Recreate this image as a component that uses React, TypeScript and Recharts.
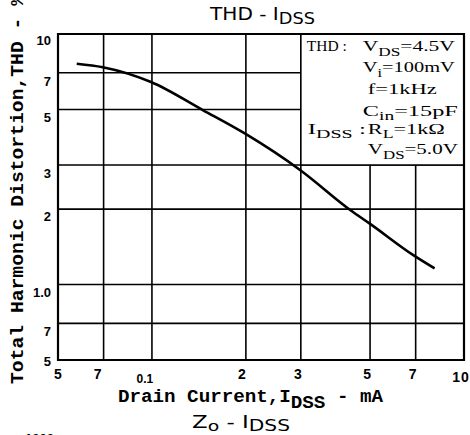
import React from 'react';
import { LineChart, Line, XAxis, YAxis, CartesianGrid, ReferenceArea } from 'recharts';

// Curve (log-log): drain current IDSS (mA) vs THD (%)
const drainCurrent = [0.574, 0.696, 0.993, 1.46, 1.99, 2.99, 4.33, 4.99, 6.88, 8.05];
const thdPercent = [7.61, 7.37, 6.43, 4.96, 4.0, 2.86, 1.98, 1.75, 1.31, 1.16];

const xTickValues = [0.5, 0.7, 1, 2, 3, 5, 7, 10];
const xTickLabels = ['5', '7', '0.1', '2', '3', '5', '7', '10'];
const yTickValues = [0.5, 0.7, 1, 2, 3, 5, 7, 10];
const yTickLabels = ['5', '7', '1.0', '2', '3', '5', '7', '10'];

const xDomain = [0.5, 10];
const yDomain = [0.5, 10];
const boxRangeX = [3, 10];
const boxRangeY = [3, 10];

const data = drainCurrent.map((c, i) => ({ current: c, thd: thdPercent[i] }));

const MONO = "'Liberation Mono', 'DejaVu Sans Mono', monospace";
const NARROW = "'Liberation Sans Narrow', 'DejaVu Sans Condensed', 'Liberation Sans', sans-serif";
const SERIF = "'Liberation Serif', 'DejaVu Serif', serif";
const TICKFONT = "'Liberation Sans', Arial, sans-serif";

const xTickDx = [0, -6, -7, -4, -3, -3, -3, -3];
const xTickDy = [19, 19, 23, 19, 19, 19, 19, 22];
const xTickSize = [14, 14, 12, 14, 14, 14, 14, 14];

function XTick(props: any) {
  const { x, y, payload } = props;
  const i = xTickValues.indexOf(payload.value);
  if (i < 0) return null;
  return (
    <text
      x={x + xTickDx[i]}
      y={y + xTickDy[i]}
      textAnchor="middle"
      fontFamily={TICKFONT}
      fontWeight="bold"
      fontSize={xTickSize[i]}
      fill="#000"
      letterSpacing={i === 7 ? 1 : 0}
    >
      {xTickLabels[i]}
    </text>
  );
}

const yTickDy = [6, 13, 12, 12, 13, 13, 13, 11];

function YTick(props: any) {
  const { x, y, payload } = props;
  const i = yTickValues.indexOf(payload.value);
  if (i < 0) return null;
  return (
    <text
      x={x - 7}
      y={y + yTickDy[i]}
      textAnchor="end"
      fontFamily={TICKFONT}
      fontWeight="bold"
      fontSize={13}
      fill="#000"
    >
      {yTickLabels[i]}
    </text>
  );
}

function BoxText(props: any) {
  const vb = props.viewBox || {};
  const x0 = vb.x ?? 301;
  const y0 = vb.y ?? 34;
  const common = { fontFamily: SERIF, fontSize: 15, fill: '#000', style: { whiteSpace: 'pre' as const } };
  const sub = { fontSize: 12 };
  return (
    <g>
      <text x={x0 + 6} y={y0 + 17} textLength={40} lengthAdjust="spacingAndGlyphs" {...common}>THD :</text>
      <text x={x0 + 62} y={y0 + 17} textLength={92} lengthAdjust="spacingAndGlyphs" {...common}>
        V<tspan dy={5} {...sub}>DS</tspan><tspan dy={-5}>=4.5V</tspan>
      </text>
      <text x={x0 + 62} y={y0 + 37.5} textLength={92} lengthAdjust="spacingAndGlyphs" {...common}>
        V<tspan dy={5} {...sub}>i</tspan><tspan dy={-5}>=100mV</tspan>
      </text>
      <text x={x0 + 67} y={y0 + 60} textLength={69} lengthAdjust="spacingAndGlyphs" {...common}>f=1kHz</text>
      <text x={x0 + 62} y={y0 + 82} textLength={95} lengthAdjust="spacingAndGlyphs" {...common}>
        C<tspan dy={4} {...sub}>in</tspan><tspan dy={-4}>=15pF</tspan>
      </text>
      <text x={x0 + 7} y={y0 + 100} textLength={58} lengthAdjust="spacingAndGlyphs" {...common}>
        I<tspan dy={4} {...sub}>DSS</tspan><tspan dy={-4}> :</tspan>
      </text>
      <text x={x0 + 67} y={y0 + 100} textLength={77} lengthAdjust="spacingAndGlyphs" {...common}>
        R<tspan dy={4} {...sub}>L</tspan><tspan dy={-4}>=1kΩ</tspan>
      </text>
      <text x={x0 + 67} y={y0 + 120} textLength={90} lengthAdjust="spacingAndGlyphs" {...common}>
        V<tspan dy={5} {...sub}>DS</tspan><tspan dy={-5}>=5.0V</tspan>
      </text>
    </g>
  );
}

export default function App() {
  return (
    <div style={{ position: 'absolute', left: 0, top: 0, width: 470, height: 435, background: '#fff', overflow: 'hidden' }}>
      <LineChart
        width={470}
        height={435}
        data={data}
        margin={{ top: 34, right: 6, left: 0, bottom: 0 }}
      >
        <CartesianGrid stroke="#000" strokeWidth={1.6} />
        <XAxis
          dataKey="current"
          type="number"
          scale="log"
          domain={xDomain}
          ticks={xTickValues}
          interval={0}
          allowDataOverflow
          height={75}
          tickSize={0}
          tickMargin={0}
          tickLine={false}
          axisLine={false}
          tick={<XTick />}
        />
        <YAxis
          type="number"
          scale="log"
          domain={yDomain}
          ticks={yTickValues}
          interval={0}
          allowDataOverflow
          width={58}
          tickSize={0}
          tickMargin={0}
          tickLine={false}
          axisLine={false}
          tick={<YTick />}
        />
        <ReferenceArea
          x1={boxRangeX[0]}
          x2={boxRangeX[1]}
          y1={boxRangeY[0]}
          y2={boxRangeY[1]}
          fill="#fff"
          fillOpacity={1}
          stroke="#000"
          strokeWidth={1.6}
          label={(p: any) => <BoxText {...p} />}
        />
        <ReferenceArea
          x1={xDomain[0]}
          x2={xDomain[1]}
          y1={yDomain[0]}
          y2={yDomain[1]}
          fill="none"
          fillOpacity={0}
          stroke="#000"
          strokeWidth={2.2}
        />
        <Line
          dataKey="thd"
          type="monotone"
          stroke="#000"
          strokeWidth={2.6}
          dot={false}
          isAnimationActive={false}
        />
      </LineChart>
      <svg
        width={470}
        height={435}
        style={{ position: 'absolute', left: 0, top: 0, pointerEvents: 'none' }}
      >
        <text x={210} y={20} fontFamily={NARROW} fontSize={17} textLength={105} lengthAdjust="spacingAndGlyphs" fill="#000" style={{ whiteSpace: 'pre' }}>
          THD - I<tspan dy={4} fontSize={15}>DSS</tspan>
        </text>
        <text
          transform="translate(23,384) rotate(-90)"
          fontFamily={MONO}
          fontWeight="bold"
          fontSize={19}
          textLength={390}
          lengthAdjust="spacingAndGlyphs"
          fill="#000"
        >
          Total Harmonic Distortion,THD - %
        </text>
        <text x={118} y={402} fontFamily={MONO} fontWeight="bold" fontSize={19} textLength={265} lengthAdjust="spacingAndGlyphs" fill="#000" style={{ whiteSpace: 'pre' }}>
          Drain Current,I<tspan dy={6}>DSS</tspan><tspan dy={-6}> - mA</tspan>
        </text>
        <text x={192} y={428} fontFamily={NARROW} fontSize={17} textLength={98} lengthAdjust="spacingAndGlyphs" fill="#000" style={{ whiteSpace: 'pre' }}>
          Z<tspan dy={3} fontSize={14}>o</tspan><tspan dy={-3}> - I</tspan><tspan dy={3} fontSize={15}>DSS</tspan>
        </text>
        <text x={25} y={443} fontFamily={TICKFONT} fontWeight="bold" fontSize={13} fill="#000">1000</text>
      </svg>
    </div>
  );
}
